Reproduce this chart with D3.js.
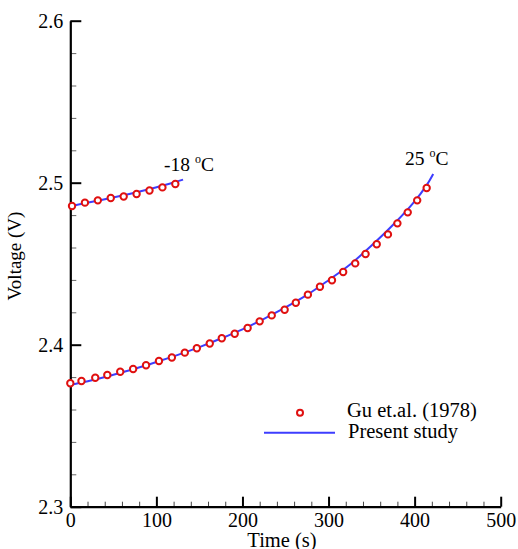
<!DOCTYPE html>
<html>
<head>
<meta charset="utf-8">
<script src="https://cdn.jsdelivr.net/npm/d3@7"></script>
<style>
  body { margin: 0; background: #fff; }
  svg { display: block; font-family: "Liberation Serif", "Times New Roman", serif; }
</style>
</head>
<body>
<div id="app"></div>
<script>
// data
var xTicks = [0, 100, 200, 300, 400, 500];
var yTicks = [2.3, 2.4, 2.5, 2.6];

// -18 C : Gu et.al. (1978) points
var coldTime = [2, 17, 32, 47, 62, 77, 92, 107, 122];
var coldVolt = [2.4856, 2.4877, 2.4891, 2.4906, 2.4915, 2.4930, 2.4952, 2.4971, 2.4992];
// -18 C : present study
var coldLineTime = [0, 30, 62, 90, 122, 131];
var coldLineVolt = [2.4855, 2.4887, 2.4922, 2.4958, 2.5004, 2.5019];

// 25 C : Gu et.al. (1978) points
var warmTime = [0, 13, 29, 43, 58, 73, 88, 103, 118, 133, 147, 162, 176, 191, 206, 220, 234, 249, 262, 276,
                290, 304, 317, 331, 343, 356, 369, 380, 392, 403, 414];
var warmVolt = [2.3762, 2.3776, 2.3796, 2.3813, 2.3833, 2.3850, 2.3873, 2.3899, 2.3921, 2.3951, 2.3978,
                2.4007, 2.4040, 2.4068, 2.4103, 2.4144, 2.4181, 2.4216, 2.4259, 2.4309, 2.4358, 2.4398,
                2.4449, 2.4502, 2.4560, 2.4620, 2.4681, 2.4749, 2.4817, 2.4891, 2.4967];
// 25 C : present study
var warmLineTime = [0, 25, 50, 75, 100, 125, 150, 175, 200, 225, 250, 275, 300, 325, 350, 375, 400, 414, 421.6];
var warmLineVolt = [2.3751, 2.3780, 2.3815, 2.3852, 2.3893, 2.3937, 2.3985, 2.4038, 2.4095, 2.4160, 2.4230,
                    2.4307, 2.4398, 2.4495, 2.4612, 2.4740, 2.4885, 2.4985, 2.5054];

var width = 518, height = 549;
var blue = '#3d3dff', red = '#e01010';

var svg = d3.select('#app')
  .append('svg')
    .attr('width', width)
    .attr('height', height);

var x = d3.scaleLinear().domain([0, 500]).range([70.3, 500.7]);
var y = d3.scaleLinear().domain([2.3, 2.6]).range([506.7, 20.7]);

////////////////////////////////////////
// axes
var xMinor = d3.range(0, 501, 20).filter(function(d){ return d % 100 !== 0; });
var yMinor = d3.range(0, 16).map(function(i){ return +(2.3 + i * 0.02).toFixed(2); })
  .filter(function(d){ return yTicks.indexOf(d) < 0 && d <= 2.6; });

svg.append('g')
    .attr('transform', 'translate(0,506.7)')
    .call(d3.axisBottom(x).tickValues(xMinor).tickSize(-5).tickFormat(''))
    .call(function(g){ g.select('.domain').remove(); g.selectAll('line').attr('stroke', '#444'); });

svg.append('g')
    .attr('transform', 'translate(70.3,0)')
    .call(d3.axisLeft(y).tickValues(yMinor).tickSize(-6).tickFormat(''))
    .call(function(g){ g.select('.domain').remove(); g.selectAll('line').attr('stroke', '#666'); });

var xAxis = svg.append('g')
    .attr('transform', 'translate(0,506.7)')
    .call(d3.axisBottom(x).tickValues(xTicks).tickSize(-10).tickSizeOuter(0).tickPadding(6));
xAxis.select('.domain').attr('stroke-width', 2.2);
xAxis.selectAll('line').attr('stroke-width', 2);
xAxis.selectAll('text').attr('font-size', 20).attr('font-family', 'Liberation Serif').attr('fill', '#000');

var yAxis = svg.append('g')
    .attr('transform', 'translate(70.3,0)')
    .call(d3.axisLeft(y).tickValues(yTicks).tickSize(-11).tickSizeOuter(0).tickPadding(7)
      .tickFormat(d3.format('.1f')));
yAxis.select('.domain').attr('stroke-width', 2.2);
yAxis.selectAll('line').attr('stroke-width', 2);
yAxis.selectAll('text').attr('font-size', 20).attr('font-family', 'Liberation Serif').attr('fill', '#000');

svg.append('text')
    .attr('x', 282).attr('y', 546.5)
    .attr('text-anchor', 'middle')
    .attr('font-size', 20.5)
    .text('Time (s)');

svg.append('text')
    .attr('transform', 'translate(21,256) rotate(-90)')
    .attr('text-anchor', 'middle')
    .attr('font-size', 19)
    .text('Voltage (V)');

////////////////////////////////////////
// curves
var line = d3.line()
    .x(function(d){ return x(d[0]); })
    .y(function(d){ return y(d[1]); })
    .curve(d3.curveCatmullRom);

[[coldLineTime, coldLineVolt], [warmLineTime, warmLineVolt]].forEach(function(s){
  svg.append('path')
      .datum(d3.zip(s[0], s[1]))
      .attr('fill', 'none')
      .attr('stroke', blue)
      .attr('stroke-width', 2)
      .attr('d', line);
});

var pts = d3.zip(coldTime, coldVolt).concat(d3.zip(warmTime, warmVolt));
svg.append('g').selectAll('circle')
    .data(pts)
  .enter().append('circle')
    .attr('cx', function(d){ return x(d[0]); })
    .attr('cy', function(d){ return y(d[1]); })
    .attr('r', 3.2)
    .attr('fill', '#fff')
    .attr('stroke', red)
    .attr('stroke-width', 2);

////////////////////////////////////////
// curve labels
function tempLabel(px, py, num){
  var t = svg.append('text').attr('x', px).attr('y', py).attr('font-size', 19.5);
  t.append('tspan').text(num + ' ');
  t.append('tspan').attr('font-size', 12).attr('dy', -8).text('o');
  t.append('tspan').attr('dy', 8).text('C');
}
tempLabel(164, 171, '-18');
tempLabel(405, 165, '25');

////////////////////////////////////////
// legend
svg.append('circle')
    .attr('cx', 300).attr('cy', 412.7).attr('r', 3)
    .attr('fill', '#fff').attr('stroke', red).attr('stroke-width', 2);
svg.append('text')
    .attr('x', 347).attr('y', 416.5)
    .attr('font-size', 20.5)
    .text('Gu et.al. (1978)');
svg.append('line')
    .attr('x1', 264).attr('x2', 335)
    .attr('y1', 432.7).attr('y2', 432.7)
    .attr('stroke', blue).attr('stroke-width', 2);
svg.append('text')
    .attr('x', 348).attr('y', 438)
    .attr('font-size', 20.5)
    .text('Present study');
</script>
</body>
</html>
